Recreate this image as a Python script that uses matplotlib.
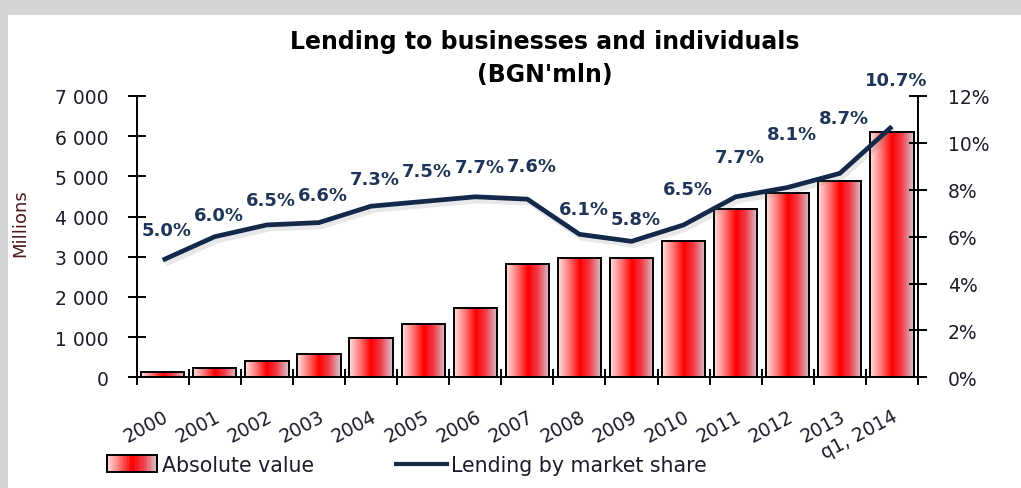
import numpy as np
import matplotlib
matplotlib.use("Agg")
import matplotlib.pyplot as plt
import matplotlib.patheffects as pe
from matplotlib.colors import LinearSegmentedColormap
from matplotlib.patches import Rectangle
from matplotlib.lines import Line2D
from matplotlib.ticker import FuncFormatter, MultipleLocator

# data
years = ["2000", "2001", "2002", "2003", "2004", "2005", "2006", "2007",
         "2008", "2009", "2010", "2011", "2012", "2013", "q1, 2014"]
absolute_value = [140, 240, 405, 585, 975, 1330, 1715, 2830,
                  2975, 2975, 3390, 4200, 4590, 4890, 6115]
market_share = [5.0, 6.0, 6.5, 6.6, 7.3, 7.5, 7.7, 7.6,
                6.1, 5.8, 6.5, 7.7, 8.1, 8.7, 10.7]

# label offsets above each point (pixels)
label_dy = [30, 22, 25, 28, 27, 30, 30, 33, 25, 22, 36, 40, 53, 55, 46]

plt.rcParams['font.family'] = ['DejaVu Sans']

NAVY = "#14284a"
TXT = "#1c1c2a"
red_cmap = LinearSegmentedColormap.from_list(
    "barred", [(0.0, "#ffe2e2"), (0.25, "#ff7878"), (0.5, "#ff0000"),
               (0.72, "#f03c48"), (1.0, "#d8cad4")])

fig = plt.figure(figsize=(10.21, 4.89), dpi=100, facecolor="#d4d4d4")
fig.patches.append(Rectangle((8 / 1021, 0), 1, 1 - 16 / 489, transform=fig.transFigure,
                             facecolor="white", edgecolor="none", zorder=-10))

ax = fig.add_axes([136.7 / 1021, 1 - 378.3 / 489, (918 - 136.7) / 1021, (378.3 - 97) / 489])
ax.set_facecolor("none")
x = np.arange(len(years))

bars = ax.bar(x, absolute_value, width=0.83, facecolor="none", edgecolor="black",
              linewidth=1.4, zorder=3)
grad = np.linspace(0, 1, 256).reshape(1, -1)
for b in bars.patches:
    im = ax.imshow(grad, cmap=red_cmap, aspect="auto", zorder=2, interpolation="bilinear",
                   extent=[b.get_x(), b.get_x() + b.get_width(), 0, b.get_height()])
    im.set_clip_path(b)

ax.set_xlim(-0.5, len(years) - 0.5)
ax.set_ylim(0, 7000)
ax.yaxis.set_major_locator(MultipleLocator(1000))
ax.yaxis.set_major_formatter(FuncFormatter(lambda v, p: f"{int(v):,}".replace(",", " ")))
ax.set_xticks(x)
ax.set_xticklabels(years, rotation=28, ha="right", rotation_mode="anchor",
                   fontsize=13.5, color=TXT)
ax.set_xticks(np.arange(-0.5, len(years), 1), minor=True)
ax.tick_params(axis="x", which="major", length=0, pad=21)
ax.tick_params(axis="x", which="minor", direction="inout", length=11, width=1.4)
ax.tick_params(axis="y", direction="inout", length=13, width=1.4, labelsize=13.5,
               labelcolor=TXT, pad=14)
for s in ["top", "right"]:
    ax.spines[s].set_visible(False)
for s in ["left", "bottom"]:
    ax.spines[s].set_linewidth(1.4)
ax.set_ylabel("Millions", fontsize=13, color="#4a1a1a")
ax.yaxis.set_label_coords(-0.137, 0.552)

ax2 = ax.twinx()
ax2.set_ylim(0, 12)
ax2.yaxis.set_major_locator(MultipleLocator(2))
ax2.yaxis.set_major_formatter(FuncFormatter(lambda v, p: f"{int(v)}%"))
ax2.tick_params(axis="y", direction="inout", length=13, width=1.4, labelsize=13.5,
                labelcolor=TXT, pad=15)
for s in ["top", "left", "bottom"]:
    ax2.spines[s].set_visible(False)
ax2.spines["right"].set_linewidth(1.4)

ax2.plot(x, market_share, color=NAVY, linewidth=3.4, zorder=5, solid_capstyle="butt",
         path_effects=[pe.SimpleLineShadow(offset=(2, -3), alpha=0.15, shadow_color="#666666"),
                       pe.Normal()])
for xi, v, dy in zip(x, market_share, label_dy):
    ax2.annotate(f"{v:.1f}%", (xi, v), xytext=(4, dy), textcoords="offset pixels",
                 ha="center", va="center", fontsize=13, fontweight="bold", color="#1f3557",
                 zorder=6)

fig.text(0.534, 0.914, "Lending to businesses and individuals", ha="center", va="center",
         fontsize=17, fontweight="bold", color="black")
fig.text(0.534, 0.847, "(BGN'mln)", ha="center", va="center",
         fontsize=17, fontweight="bold", color="black")


class GradientHandler:
    def legend_artist(self, legend, orig_handle, fontsize, handlebox):
        x0, y0 = handlebox.xdescent, handlebox.ydescent
        w, h = handlebox.width, handlebox.height
        n = 30
        for i in range(n):
            handlebox.add_artist(Rectangle((x0 + w * i / n, y0 - 1), w / n + 0.3, h + 2,
                                           facecolor=red_cmap((i + 0.5) / n), edgecolor="none",
                                           transform=handlebox.get_transform()))
        frame = Rectangle((x0, y0 - 1), w, h + 2, facecolor="none", edgecolor="black",
                          linewidth=1.4, transform=handlebox.get_transform())
        handlebox.add_artist(frame)
        return frame


bar_handle = Rectangle((0, 0), 1, 1)
line_handle = Line2D([], [], color=NAVY, linewidth=3)
fig.legend([bar_handle, line_handle], ["Absolute value", "Lending by market share"],
           handler_map={Rectangle: GradientHandler()}, loc="center left",
           bbox_to_anchor=(88 / 1021, 1 - 466 / 489), ncol=2, frameon=False,
           fontsize=14.8, handlelength=2.48, handletextpad=0.2, columnspacing=4.0,
           labelcolor=TXT)

fig.savefig("out.png", dpi=100, facecolor=fig.get_facecolor())
